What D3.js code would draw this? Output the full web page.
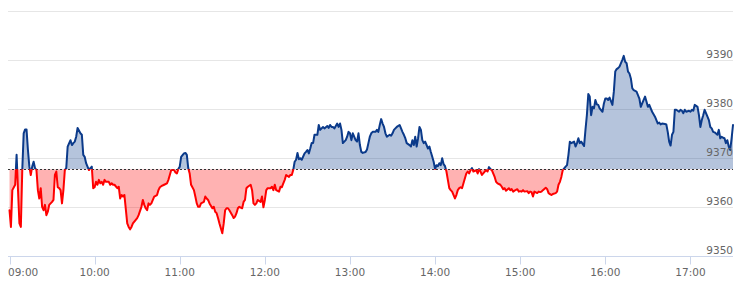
<!DOCTYPE html>
<html><head><meta charset="utf-8">
<script src="https://cdn.jsdelivr.net/npm/d3@7/dist/d3.min.js"></script>
<style>html,body{margin:0;padding:0;background:#fff}svg{display:block}</style>
</head><body><svg id="chart" width="749" height="283"></svg>
<script>
// ---- data ----
const sessionStart = "09:00";
const sessionEnd = "17:30";
const prevClose = 9367.75;
const yTickValues = [9350, 9360, 9370, 9380, 9390, 9400];
const yTickLabels = ["9350", "9360", "9370", "9380", "9390", ""];
const xTickLabels = ["09:00","10:00","11:00","12:00","13:00","14:00","15:00","16:00","17:00"];
// minutes after session start
const minuteOffsets = [0,1,2,4,5,6,7,8,9,10,11,12,13,14,15,16,17,18,19,20,21,22,23,24,25,26,27,28,30,31,32,33,34,35,36,37,38,39,40,41,43,44,45,46,47,48,50,51,52,53,54,55,56,57,58,59,60,61,62,63,64,65,66,67,68,70,71,72,73,74,76,77,78,79,80,81,83,84,85,86,87,90,91,93,94,95,96,97,98,99,100,102,104,105,106,107,109,111,112,113,114,116,117,118,119,120,121,123,124,125,126,127,128,130,131,132,133,134,135,137,138,139,140,141,143,144,145,146,147,148,150,151,152,153,154,155,157,158,159,160,161,162,164,165,166,167,168,170,171,172,173,174,175,177,178,179,180,181,182,184,185,186,187,188,190,191,192,193,194,195,197,198,199,200,201,202,203,204,205,206,208,209,210,211,212,213,214,215,217,218,219,220,221,222,224,225,226,227,228,229,231,232,233,234,235,237,238,239,240,241,242,244,245,246,247,248,249,251,252,253,254,255,256,258,259,260,261,262,263,264,265,266,268,269,270,271,272,273,275,276,277,278,279,280,282,283,284,285,286,287,288,289,290,291,292,293,295,296,297,298,299,300,301,302,303,304,305,306,307,308,309,310,311,312,314,315,316,317,318,319,320,322,323,324,325,326,327,329,330,331,332,333,335,336,337,338,339,340,342,343,344,346,347,348,349,350,352,353,354,355,356,358,359,360,361,362,363,365,366,367,368,369,370,372,373,374,375,376,378,379,380,381,382,383,385,386,387,388,389,390,392,393,394,395,396,398,399,400,401,402,403,405,406,407,408,409,410,411,412,413,414,415,416,418,419,420,421,422,423,425,426,427,428,429,430,432,433,434,435,436,437,438,439,440,442,443,444,445,446,448,449,450,451,452,453,455,456,457,458,459,460,462,463,464,465,466,467,468,469,470,472,473,474,475,476,477,479,480,481,482,483,485,486,487,488,489,490,492,493,494,495,496,497,499,500,501,502,503,504,505,506,507,508,509,510];
const prices = [9359.4,9356.0,9363.5,9364.6,9370.7,9363.5,9356.7,9356.0,9367.6,9375.1,9375.9,9375.9,9371.7,9368.3,9366.6,9368.3,9369.3,9368.0,9367.6,9363.5,9361.8,9363.9,9360.1,9359.4,9360.5,9358.4,9359.1,9360.5,9361.1,9361.5,9366.6,9367.3,9364.1,9363.9,9363.5,9360.8,9363.5,9367.6,9368.0,9372.4,9373.7,9372.7,9373.1,9373.4,9374.4,9376.2,9375.1,9374.8,9370.7,9370.3,9369.0,9368.3,9367.6,9368.0,9368.3,9363.9,9364.1,9365.2,9364.6,9365.6,9364.9,9365.2,9364.6,9365.6,9365.2,9365.2,9364.6,9364.9,9364.6,9364.6,9363.9,9364.2,9361.8,9362.5,9362.2,9362.5,9356.7,9356.0,9355.5,9356.0,9356.7,9357.8,9358.4,9360.1,9361.5,9360.5,9359.8,9359.4,9360.8,9360.5,9360.8,9362.2,9362.5,9363.5,9364.1,9364.3,9364.6,9364.9,9365.6,9366.6,9367.6,9367.6,9367.1,9366.9,9367.8,9368.3,9370.3,9371.0,9371.1,9370.7,9368.0,9366.9,9364.6,9363.5,9362.2,9360.8,9360.1,9360.1,9360.8,9361.1,9362.2,9361.8,9361.5,9360.8,9359.8,9360.1,9359.1,9358.8,9357.8,9356.7,9354.7,9356.7,9359.4,9359.8,9359.8,9359.4,9358.4,9357.8,9358.1,9358.8,9359.8,9360.1,9359.8,9361.1,9361.5,9363.9,9364.2,9364.6,9363.5,9360.8,9360.5,9360.8,9361.5,9361.1,9362.2,9360.0,9361.5,9363.5,9363.9,9363.9,9364.2,9363.5,9364.6,9363.5,9363.2,9364.2,9364.1,9364.9,9365.6,9366.6,9366.2,9366.6,9366.6,9367.6,9369.3,9369.7,9371.1,9369.8,9370.0,9369.7,9371.0,9371.3,9371.7,9371.0,9372.0,9373.1,9373.1,9374.8,9374.8,9376.8,9375.8,9376.1,9376.4,9376.1,9376.6,9376.2,9376.8,9376.4,9376.4,9376.1,9377.1,9376.4,9377.1,9375.8,9373.1,9373.7,9374.4,9375.4,9375.1,9373.7,9375.1,9373.7,9373.4,9375.1,9372.7,9371.3,9371.1,9371.3,9371.8,9373.1,9374.4,9375.1,9375.4,9375.4,9375.8,9375.4,9376.8,9378.0,9377.1,9376.4,9375.1,9374.4,9374.8,9374.6,9375.1,9375.8,9376.1,9376.4,9376.8,9376.1,9375.4,9374.8,9374.1,9373.1,9372.7,9372.4,9373.7,9372.7,9374.4,9372.4,9374.1,9376.4,9375.8,9373.7,9373.1,9373.4,9372.0,9372.4,9371.3,9370.3,9369.3,9367.8,9368.6,9368.4,9369.0,9368.6,9370.0,9368.8,9368.4,9367.3,9365.6,9363.9,9363.5,9363.2,9361.8,9362.5,9363.5,9363.9,9364.1,9363.9,9364.9,9366.9,9367.3,9366.9,9367.6,9368.0,9367.3,9367.6,9366.9,9367.8,9367.3,9366.6,9367.3,9367.6,9367.3,9368.2,9367.8,9367.6,9366.2,9365.2,9364.9,9364.6,9364.2,9363.7,9363.9,9363.4,9363.9,9363.5,9363.7,9363.2,9363.4,9363.7,9363.2,9363.3,9363.2,9363.5,9363.2,9363.3,9362.9,9363.2,9363.1,9362.2,9363.2,9362.9,9363.2,9363.1,9363.2,9363.5,9364.0,9363.7,9362.9,9362.7,9362.5,9362.7,9362.9,9363.2,9364.6,9365.2,9366.2,9367.6,9368.3,9368.6,9370.7,9373.4,9373.1,9373.4,9372.4,9373.1,9374.1,9373.1,9373.4,9372.5,9375.8,9378.8,9383.1,9382.6,9378.8,9380.5,9380.2,9381.9,9381.0,9380.9,9380.2,9379.5,9381.2,9382.2,9382.2,9381.9,9382.4,9380.9,9383.6,9387.7,9388.2,9388.4,9388.7,9390.1,9390.9,9389.7,9389.4,9387.7,9387.3,9386.3,9384.3,9383.9,9383.6,9382.9,9382.2,9380.5,9381.2,9382.6,9381.6,9380.5,9380.9,9380.2,9379.5,9378.5,9377.8,9377.1,9377.3,9376.9,9377.1,9377.0,9376.9,9375.4,9373.4,9372.6,9374.8,9375.4,9379.9,9379.9,9379.5,9379.9,9379.7,9379.2,9379.9,9379.5,9379.7,9379.5,9379.9,9379.7,9380.9,9380.5,9378.8,9376.4,9377.8,9378.8,9379.9,9378.5,9377.8,9376.4,9376.1,9375.4,9375.3,9374.8,9375.8,9374.1,9374.4,9374.2,9374.1,9373.1,9373.7,9372.4,9371.7,9374.0,9376.8];

// ---- chart ----
const svg = d3.select("#chart");
const font = "'DejaVu Sans', sans-serif";
const parse = d3.timeParse("%H:%M");
const t0 = parse(sessionStart), t1 = parse(sessionEnd);
const data = minuteOffsets.map((m, i) => ({ t: d3.timeMinute.offset(t0, m), v: prices[i] }));

const left = 8, right = 733;
const x = d3.scaleTime().domain([t0, t1]).range([9.5, 733]);
const y = d3.scaleLinear().domain([9350, 9400]).range([256.3, 11.3]);
const crisp = v => Math.round(v) + 0.5;

// grid
svg.append("g").selectAll("line")
  .data(yTickValues.filter(v => v !== 9350))
  .join("line")
  .attr("x1", left).attr("x2", right)
  .attr("y1", d => crisp(y(d))).attr("y2", d => crisp(y(d)))
  .attr("stroke", "#e6e6e6").attr("stroke-width", 1);

// series with threshold colouring
const yBase = y(prevClose);
const defs = svg.append("defs");
defs.append("clipPath").attr("id", "above").append("rect")
  .attr("x", 0).attr("y", 0).attr("width", 749).attr("height", yBase);
defs.append("clipPath").attr("id", "below").append("rect")
  .attr("x", 0).attr("y", yBase).attr("width", 749).attr("height", 283 - yBase);

const area = d3.area().x(d => x(d.t)).y0(yBase).y1(d => y(d.v));
const line = d3.line().x(d => x(d.t)).y(d => y(d.v));
const blue = "#0b3a8a", red = "#ff0000";

svg.append("path").datum(data).attr("d", area).attr("clip-path", "url(#above)")
  .attr("fill", blue).attr("fill-opacity", 0.3);
svg.append("path").datum(data).attr("d", area).attr("clip-path", "url(#below)")
  .attr("fill", red).attr("fill-opacity", 0.3);

// previous close dashed line
svg.append("line")
  .attr("x1", left).attr("x2", right)
  .attr("y1", crisp(yBase)).attr("y2", crisp(yBase))
  .attr("stroke", "#333").attr("stroke-width", 1).attr("stroke-dasharray", "2,2");

svg.append("path").datum(data).attr("d", line).attr("clip-path", "url(#above)")
  .attr("fill", "none").attr("stroke", blue).attr("stroke-width", 2)
  .attr("stroke-linejoin", "round").attr("stroke-linecap", "round");
svg.append("path").datum(data).attr("d", line).attr("clip-path", "url(#below)")
  .attr("fill", "none").attr("stroke", red).attr("stroke-width", 2)
  .attr("stroke-linejoin", "round").attr("stroke-linecap", "round");

// y labels (right, inside)
svg.append("g").selectAll("text")
  .data(yTickValues.map((v, i) => ({ v, label: yTickLabels[i] })).filter(d => d.label))
  .join("text")
  .attr("x", right).attr("y", d => crisp(y(d.v)) - 3)
  .attr("text-anchor", "end")
  .attr("font-family", font).attr("font-size", "10.5px").attr("fill", "#666")
  .text(d => d.label);

// x axis
const xAxis = svg.append("g");
xAxis.append("line").attr("x1", left).attr("x2", right)
  .attr("y1", crisp(y(9350))).attr("y2", crisp(y(9350)))
  .attr("stroke", "#ccd6eb").attr("stroke-width", 1);
const ticks = xTickLabels.map(s => ({ s, t: parse(s) }));
xAxis.selectAll("line.tick").data(ticks).join("line").attr("class", "tick")
  .attr("x1", d => crisp(x(d.t))).attr("x2", d => crisp(x(d.t)))
  .attr("y1", crisp(y(9350))).attr("y2", crisp(y(9350)) + 8)
  .attr("stroke", "#ccd6eb").attr("stroke-width", 1);
// labels centred on ticks, first one justified to stay inside the plot
xAxis.selectAll("text").data(ticks).join("text")
  .attr("x", (d, i) => i === 0 ? left : x(d.t))
  .attr("y", 275.5)
  .attr("text-anchor", (d, i) => i === 0 ? "start" : "middle")
  .attr("font-family", font).attr("font-size", "10.5px").attr("fill", "#666")
  .text(d => d.s);
</script></body></html>
